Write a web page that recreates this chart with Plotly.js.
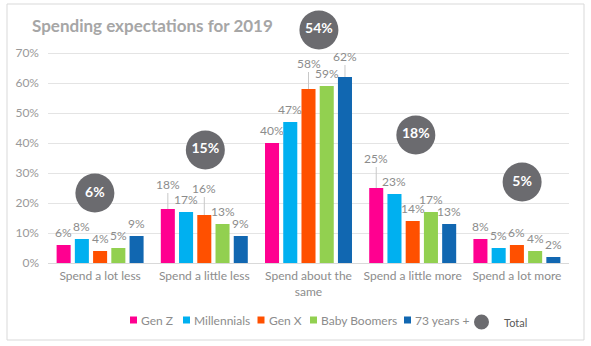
<!DOCTYPE html>
<html>
<head>
<meta charset="utf-8">
<script src="https://cdn.plot.ly/plotly-3.0.1.min.js"></script>
<style>html,body{margin:0;padding:0;background:#fff;}#chart{width:591px;height:346px;}</style>
</head>
<body>
<div id="chart"></div>
<script>
// ---- data ----
var categories = ["Spend a lot less", "Spend a little less", "Spend about the<br>same", "Spend a little more", "Spend a lot more"];
var seriesNames = ["Gen Z", "Millennials", "Gen X", "Baby Boomers", "73 years +"];
var genZ        = [6, 18, 40, 25, 8];
var millennials = [8, 17, 47, 23, 5];
var genX        = [4, 16, 58, 14, 6];
var boomers     = [5, 13, 59, 17, 4];
var over73      = [9, 9, 62, 13, 2];
var total       = [6, 15, 54, 18, 5];
var yTicks      = [0, 10, 20, 30, 40, 50, 60, 70];

// ---- styles / placement ----
var colors = ["#ff0090", "#00b0f0", "#ff5000", "#92d050", "#1167b1"];
var labelColor = "#8c8c8c";
var font = "Lato, 'Open Sans', sans-serif";
var bargap = 0.125;
var slot = (1 - bargap) / 5;
var labelShift = 13;                 // px above bar top for normal labels
// leader-line labels: key "series,category" -> px offset above bar top
var leaderOffsets = {"0,1": 25, "2,1": 27, "2,2": 26, "4,2": 21, "0,3": 30};
// bubble placement (relative to category centre / group max)
var bubbleDx = [-0.05, 0.01, 0.1, 0.03, 0.05];
var bubbleLift = [14.3, 19.7, 15.7, 17.7, 19];

var allSeries = [genZ, millennials, genX, boomers, over73];
var xIdx = categories.map(function (_, i) { return i; });

var traces = allSeries.map(function (vals, j) {
  return {
    type: "bar", name: seriesNames[j], x: xIdx, y: vals,
    marker: {color: colors[j]}, showlegend: false, hoverinfo: "skip"
  };
});

var annotations = [];
allSeries.forEach(function (vals, j) {
  vals.forEach(function (v, i) {
    var key = j + "," + i;
    var xc = i + (j - 2) * slot;
    if (leaderOffsets[key] !== undefined) {
      annotations.push({
        x: xc, y: v, xref: "x", yref: "y", text: v + "%",
        showarrow: true, arrowhead: 0, arrowwidth: 1, arrowcolor: "#c8c8c8",
        ax: 0, ay: -leaderOffsets[key], standoff: 0,
        font: {family: font, size: 12, color: labelColor}
      });
    } else {
      annotations.push({
        x: xc, y: v, xref: "x", yref: "y", text: v + "%",
        showarrow: false, yanchor: "middle", yshift: labelShift,
        font: {family: font, size: 12, color: labelColor}
      });
    }
  });
});

// bubbles for totals
var bubbleX = xIdx.map(function (i) { return i + bubbleDx[i]; });
var bubbleY = xIdx.map(function (i) {
  return Math.max(genZ[i], millennials[i], genX[i], boomers[i], over73[i]) + bubbleLift[i];
});
traces.push({
  type: "scatter", mode: "markers+text", name: "Total",
  x: bubbleX, y: bubbleY, text: total.map(function (v) { return "<b>" + v + "%</b>"; }),
  textposition: "middle center",
  textfont: {family: font, size: 14, color: "#ffffff"},
  marker: {size: 39, color: "#6b6b6f"}, cliponaxis: false, showlegend: false, hoverinfo: "skip"
});

// manual legend (pixel -> paper helpers)
var L = 48, W = 521, B = 263, H = 240;
function px(x) { return (x - L) / W; }
function py(y) { return (B - y) / H; }
var shapes = [{
  type: "rect", xref: "paper", yref: "paper",
  x0: px(7), x1: px(584), y0: py(340), y1: py(4),
  line: {color: "#d9d9d9", width: 1}, layer: "below"
}];
var legendSquareX = [130, 183, 257.5, 310, 404];
var legendY = 320;
seriesNames.forEach(function (n, j) {
  var x0 = legendSquareX[j];
  shapes.push({
    type: "rect", xref: "paper", yref: "paper",
    x0: px(x0), x1: px(x0 + 7), y0: py(legendY + 3.5), y1: py(legendY - 3.5),
    fillcolor: colors[j], line: {width: 0}
  });
  annotations.push({
    xref: "paper", yref: "paper", x: px(x0 + 9), y: py(legendY),
    xanchor: "left", yanchor: "middle", showarrow: false, text: n,
    font: {family: font, size: 12, color: labelColor}
  });
});
shapes.push({
  type: "circle", xref: "paper", yref: "paper",
  x0: px(474), x1: px(489), y0: py(legendY + 9.5), y1: py(legendY - 5.5),
  fillcolor: "#6b6b6f", line: {width: 0}
});
annotations.push({
  xref: "paper", yref: "paper", x: px(502), y: py(legendY + 2),
  xanchor: "left", yanchor: "middle", showarrow: false, text: "Total",
  font: {family: font, size: 11, color: "#595959"}
});

var layout = {
  width: 591, height: 346,
  margin: {l: 48, r: 22, t: 23, b: 83},
  paper_bgcolor: "#ffffff", plot_bgcolor: "#ffffff",
  barmode: "group", bargap: bargap, bargroupgap: 0.23,
  title: {
    text: "<b>Spending expectations for 2019</b>",
    xref: "container", yref: "container", x: 32 / 591, xanchor: "left",
    y: 1 - 26 / 346, yanchor: "middle",
    font: {family: font, size: 17, color: "#a6a6a6"}
  },
  xaxis: {
    range: [-0.5, 4.5], tickvals: xIdx, ticktext: categories,
    showgrid: false, zeroline: false, showline: false, ticks: "",
    tickfont: {family: font, size: 12, color: labelColor},
    ticklabelstandoff: 4, fixedrange: true
  },
  yaxis: {
    range: [0, 80], tickvals: yTicks, ticktext: yTicks.map(function (v) { return v + "%"; }),
    showgrid: true, gridcolor: "#e4e4e4", gridwidth: 1,
    zeroline: true, zerolinecolor: "#d9d9d9", zerolinewidth: 1,
    showline: false, ticks: "",
    tickfont: {family: font, size: 12, color: "#999999"},
    ticklabelstandoff: 8, fixedrange: true
  },
  annotations: annotations,
  shapes: shapes,
  showlegend: false
};

Plotly.newPlot("chart", traces, layout, {displayModeBar: false, staticPlot: true});
</script>
</body>
</html>
